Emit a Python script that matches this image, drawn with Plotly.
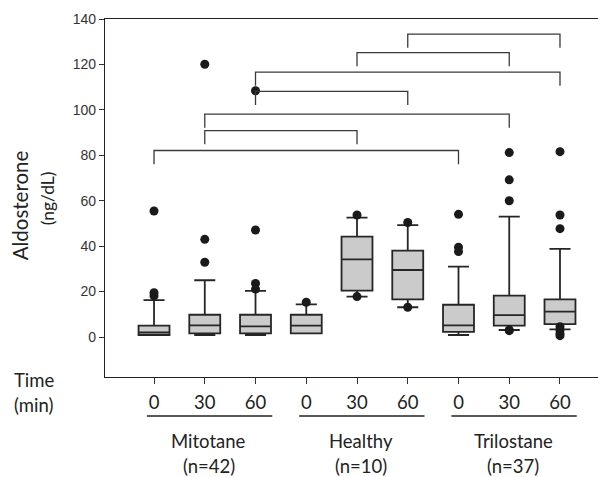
import plotly.graph_objects as go

# ---- data ----
positions = [0, 1, 2, 3, 4, 5, 6, 7, 8]
time_labels = ["0", "30", "60", "0", "30", "60", "0", "30", "60"]
q1 = [0.9, 1.6, 1.6, 1.6, 20.4, 16.6, 2.3, 5.0, 5.7]
median = [2.0, 5.1, 4.7, 5.0, 34.2, 29.5, 5.1, 9.6, 11.2]
q3 = [5.0, 9.8, 9.8, 9.8, 44.2, 38.0, 14.2, 18.2, 16.6]
lower_fence = [0.9, 0.9, 0.9, 1.6, 17.8, 13.1, 0.9, 3.1, 3.4]
upper_fence = [16.2, 25.0, 20.3, 14.4, 52.6, 49.3, 31.0, 53.0, 38.8]
outliers = [
    [55.5, 19.5, 18.1],
    [120.1, 43.0, 32.9],
    [108.4, 47.1, 23.6, 21.1],
    [15.3],
    [53.7, 17.8],
    [50.4, 13.1],
    [54.0, 39.5, 37.6],
    [81.2, 69.2, 60.0, 3.1, 2.8],
    [81.6, 53.7, 47.7, 4.5, 3.1, 1.6, 0.6],
]
# significance brackets: (left position, right position, bar height)
bracket_left = [5, 4, 2, 2, 1, 1, 0]
bracket_right = [8, 7, 8, 5, 7, 4, 6]
bracket_top = [133.3, 125.2, 116.6, 108.1, 98.1, 90.9, 82.1]
bracket_drop = 6.0

group_names = ["Mitotane", "Healthy", "Trilostane"]
group_ns = ["(n=42)", "(n=10)", "(n=37)"]
group_first = [0, 3, 6]

y_ticks = [0, 20, 40, 60, 80, 100, 120, 140]

fig = go.Figure()

fig.add_trace(go.Box(
    x=positions, q1=q1, median=median, q3=q3,
    lowerfence=lower_fence, upperfence=upper_fence,
    width=0.61, whiskerwidth=0.68,
    fillcolor="#cbcbcb",
    line=dict(color="#262626", width=1.8),
    boxpoints=False, showlegend=False, hoverinfo="skip",
))

ox, oy = [], []
for p, vals in zip(positions, outliers):
    for v in vals:
        ox.append(p)
        oy.append(v)
fig.add_trace(go.Scatter(
    x=ox, y=oy, mode="markers",
    marker=dict(color="#1a1a1a", size=9),
    showlegend=False, hoverinfo="skip",
))

for a, b, t in zip(bracket_left, bracket_right, bracket_top):
    fig.add_trace(go.Scatter(
        x=[a, a, b, b], y=[t - bracket_drop, t, t, t - bracket_drop],
        mode="lines", line=dict(color="#3a3a3a", width=1.3),
        showlegend=False, hoverinfo="skip",
    ))

ann_font = dict(family="Lato", size=18.5, color="#222")

annotations = []
for g, name, n in zip(group_first, group_names, group_ns):
    c = g + 1.08
    annotations.append(dict(x=c, y=-0.179, xref="x", yref="paper", text=name,
                            showarrow=False, font=ann_font, xanchor="center", yanchor="middle"))
    annotations.append(dict(x=c, y=-0.248, xref="x", yref="paper", text=n,
                            showarrow=False, font=ann_font, xanchor="center", yanchor="middle"))

annotations.append(dict(x=-0.189, y=-0.008, xref="paper", yref="paper", text="Time",
                        showarrow=False, font=ann_font, xanchor="left", yanchor="middle"))
annotations.append(dict(x=-0.189, y=-0.078, xref="paper", yref="paper", text="(min)",
                        showarrow=False, font=ann_font, xanchor="left", yanchor="middle"))
annotations.append(dict(x=-0.172, y=0.48, xref="paper", yref="paper", text="Aldosterone",
                        showarrow=False, textangle=-90,
                        font=dict(family="Lato", size=20.5, color="#222"),
                        xanchor="center", yanchor="middle"))
annotations.append(dict(x=-0.117, y=0.50, xref="paper", yref="paper", text="(ng/dL)",
                        showarrow=False, textangle=-90,
                        font=dict(family="Lato", size=17.5, color="#222"),
                        xanchor="center", yanchor="middle"))

shapes = []
for g in group_first:
    shapes.append(dict(type="line", xref="x", yref="paper",
                       x0=g - 0.14, x1=g + 2.33, y0=-0.109, y1=-0.109,
                       line=dict(color="#222", width=1.3)))

fig.update_layout(
    width=598, height=477,
    margin=dict(l=105, r=0, t=19, b=100),
    paper_bgcolor="white", plot_bgcolor="white",
    annotations=annotations, shapes=shapes,
    xaxis=dict(
        range=[-0.966, 8.749], tickmode="array", tickvals=positions, ticktext=time_labels,
        ticks="outside", ticklen=6, tickcolor="#333", tickwidth=1,
        showline=True, linecolor="#222", linewidth=1.2, mirror=True,
        showgrid=False, zeroline=False,
        tickfont=dict(family="Lato", size=18.5, color="#222"),
        ticklabelstandoff=3,
    ),
    yaxis=dict(
        range=[-17.6, 140], tickmode="array", tickvals=y_ticks,
        ticks="outside", ticklen=5, tickcolor="#333", tickwidth=1,
        showline=True, linecolor="#222", linewidth=1.2,
        showgrid=False, zeroline=False,
        tickfont=dict(family="Liberation Sans", size=14, color="#333"),
    ),
)

fig.write_html("out.html")
